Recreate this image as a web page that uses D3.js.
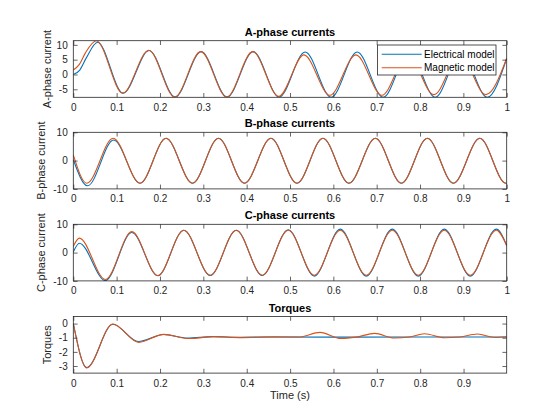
<!DOCTYPE html>
<html>
<head>
<meta charset="utf-8">
<script src="https://cdn.jsdelivr.net/npm/d3@7/dist/d3.min.js"></script>
<style>
  body { margin: 0; background: #fff; }
  text { font-family: "Liberation Sans", Arial, Helvetica, sans-serif; }
</style>
</head>
<body>
<div id="chart"></div>
<script>
// values: extrema of each trace (time in s)
const aTimeE = [0, 0.015, 0.03, 0.056, 0.115, 0.175, 0.235, 0.295, 0.355, 0.415, 0.475, 0.535, 0.595, 0.655, 0.715, 0.775, 0.835, 0.895, 0.955, 1.0];
const aElec = [0, 1.5, 5.6, 10.9, -6.3, 8.1, -7.6, 7.7, -7.6, 7.7, -7.6, 7.6, -7.7, 7.6, -7.7, 7.6, -7.7, 7.6, -7.7, 5.4];
const aTimeM = [0, 0.014, 0.028, 0.053, 0.114, 0.174, 0.234, 0.294, 0.354, 0.414, 0.474, 0.532, 0.592, 0.652, 0.712, 0.772, 0.832, 0.892, 0.952, 1.0];
const aMag = [1.5, 3.4, 7.3, 11.4, -6.3, 8.2, -7.6, 7.7, -7.6, 7.7, -7.4, 6.6, -7.0, 6.6, -7.0, 6.6, -6.8, 6.6, -6.8, 5.5];

const bTimeE = [0, 0.033, 0.093, 0.154, 0.214, 0.275, 0.335, 0.395, 0.456, 0.516, 0.576, 0.636, 0.697, 0.757, 0.817, 0.877, 0.938, 0.998, 1.0];
const bElec = [0.3, -8.9, 7.3, -8.0, 7.9, -8.0, 7.9, -8.0, 7.9, -8.0, 7.9, -8.0, 7.9, -8.0, 7.9, -8.0, 7.9, -8.0, -7.98];
const bTimeM = [0, 0.031, 0.092, 0.154, 0.214, 0.275, 0.335, 0.395, 0.456, 0.516, 0.576, 0.636, 0.697, 0.757, 0.817, 0.877, 0.938, 0.998, 1.0];
const bMag = [2.0, -8.0, 7.9, -8.0, 7.9, -8.0, 7.9, -8.0, 7.9, -8.0, 7.9, -8.0, 7.9, -8.0, 7.9, -8.0, 7.9, -8.0, -7.98];

const cTime = [0, 0.014, 0.074, 0.135, 0.195, 0.255, 0.316, 0.376, 0.436, 0.496, 0.556, 0.616, 0.676, 0.736, 0.796, 0.856, 0.916, 0.976, 1.0];
const cElec = [0.2, 3.3, -9.9, 7.1, -8.2, 7.9, -8.1, 7.9, -8.1, 8.1, -8.3, 8.3, -8.3, 8.3, -8.3, 8.3, -8.3, 8.3, 2.6];
const cMag = [2.2, 5.1, -9.5, 7.4, -8.1, 7.9, -8.0, 7.9, -8.0, 7.9, -8.0, 7.9, -8.0, 7.9, -8.0, 7.9, -8.0, 7.9, 2.4];

const tqTimeE = [0, 0.031, 0.091, 0.150, 0.208, 0.263, 0.322, 0.38, 0.44, 0.6, 0.8, 0.9995];
const tqElec = [0, -3.11, -0.05, -1.27, -0.77, -1.02, -0.92, -0.97, -0.95, -0.96, -0.95, -0.95];
const tqTimeM = [0, 0.031, 0.091, 0.151, 0.209, 0.266, 0.325, 0.39, 0.46, 0.52, 0.569, 0.617, 0.652, 0.695, 0.740, 0.775, 0.810, 0.856, 0.892, 0.932, 0.972, 0.9995];
const tqMag = [0, -3.13, -0.03, -1.33, -0.76, -1.06, -0.92, -0.99, -0.94, -0.95, -0.62, -1.05, -0.96, -0.69, -1.02, -0.95, -0.72, -1.0, -0.95, -0.74, -0.98, -0.93];

const xTicks = [0, 0.1, 0.2, 0.3, 0.4, 0.5, 0.6, 0.7, 0.8, 0.9, 1];
const aTicks = [-5, 0, 5, 10];
const bTicks = [-10, 0, 10];
const cTicks = [-10, 0, 10];
const tqTicks = [-3, -2, -1, 0];
const seriesNames = ["Electrical model", "Magnetic model"];

const width = 560;
const height = 420;
const left = 73.3;
const right = 506.7;
const panelH = 56.6;
const blue = "#0072BD";
const orange = "#D95319";
const axisColor = "#262626";

const panels = [
  { title: "A-phase currents", ylabel: "A-phase current", top: 40.7, yDomain: [-7.7, 11.4], yTicks: aTicks, xMax: 1, tE: aTimeE, vE: aElec, tM: aTimeM, vM: aMag, labX: 51, legend: true },
  { title: "B-phase currents", ylabel: "B-phase current", top: 132.3, yDomain: [-10, 10], yTicks: bTicks, xMax: 1, tE: bTimeE, vE: bElec, tM: bTimeM, vM: bMag, labX: 44.5 },
  { title: "C-phase currents", ylabel: "C-phase current", top: 224.3, yDomain: [-10, 10], yTicks: cTicks, xMax: 1, tE: cTime, vE: cElec, tM: cTime, vM: cMag, labX: 44.5 },
  { title: "Torques", ylabel: "Torques", top: 316.5, yDomain: [-3.5, 0.5], yTicks: tqTicks, xMax: 0.9995, tE: tqTimeE, vE: tqElec, tM: tqTimeM, vM: tqMag, labX: 51, xlabel: "Time (s)" },
];

const svg = d3
  .select("#chart")
  .append("svg")
  .attr("width", width)
  .attr("height", height);

svg.append("rect").attr("width", width).attr("height", height).attr("fill", "#fff");

const fmtX = (d) => String(+d.toFixed(1));
const fmtY = (d) => String(d);

panels.forEach((p, i) => {
  const x = d3.scaleLinear().domain([0, p.xMax]).range([left, right]);
  const y = d3.scaleLinear().domain(p.yDomain).range([p.top + panelH, p.top]);
  const g = svg.append("g");

  g.append("clipPath")
    .attr("id", "clip" + i)
    .append("rect")
    .attr("x", left)
    .attr("y", p.top)
    .attr("width", right - left)
    .attr("height", panelH);

  const line = d3
    .line()
    .x((d) => x(d[0]))
    .y((d) => y(d[1]))
    .curve(d3.curveMonotoneX);

  const lines = g.append("g").attr("clip-path", `url(#clip${i})`);
  lines
    .append("path")
    .attr("d", line(d3.zip(p.tE, p.vE)))
    .attr("fill", "none")
    .attr("stroke", blue)
    .attr("stroke-width", 1.1);
  lines
    .append("path")
    .attr("d", line(d3.zip(p.tM, p.vM)))
    .attr("fill", "none")
    .attr("stroke", orange)
    .attr("stroke-width", 1.1);

  const xt = xTicks.filter((t) => t <= p.xMax);
  const bottom = p.top + panelH;

  const axB = g.append("g").attr("transform", `translate(0,${bottom})`)
    .call(d3.axisBottom(x).tickValues(xt).tickFormat(fmtX).tickSizeInner(-4.3).tickSizeOuter(0).tickPadding(6.5));
  const axT = g.append("g").attr("transform", `translate(0,${p.top})`)
    .call(d3.axisTop(x).tickValues(xt).tickFormat("").tickSizeInner(-4.3).tickSizeOuter(0));
  const axL = g.append("g").attr("transform", `translate(${left},0)`)
    .call(d3.axisLeft(y).tickValues(p.yTicks).tickFormat(fmtY).tickSizeInner(-4.3).tickSizeOuter(0).tickPadding(5.6));
  const axR = g.append("g").attr("transform", `translate(${right},0)`)
    .call(d3.axisRight(y).tickValues(p.yTicks).tickFormat("").tickSizeInner(-4.3).tickSizeOuter(0));

  [axB, axT, axL, axR].forEach((a) => {
    a.select(".domain").remove();
    a.selectAll("line").attr("stroke", axisColor).attr("stroke-width", 0.7);
    a.selectAll("text")
      .attr("fill", axisColor)
      .style("font-size", "10px")
      .style("font-family", '"Liberation Sans", Arial, Helvetica, sans-serif');
  });

  g.append("rect")
    .attr("x", left)
    .attr("y", p.top)
    .attr("width", right - left)
    .attr("height", panelH)
    .attr("fill", "none")
    .attr("stroke", axisColor)
    .attr("stroke-width", 0.8);

  g.append("text")
    .attr("x", (left + right) / 2)
    .attr("y", p.top - 5)
    .attr("text-anchor", "middle")
    .attr("font-size", 11)
    .attr("font-weight", "bold")
    .attr("fill", "#000")
    .text(p.title);

  g.append("text")
    .attr("transform", `translate(${p.labX},${p.top + panelH / 2}) rotate(-90)`)
    .attr("text-anchor", "middle")
    .attr("font-size", 11)
    .attr("fill", axisColor)
    .text(p.ylabel);

  if (p.xlabel) {
    g.append("text")
      .attr("x", (left + right) / 2)
      .attr("y", 399)
      .attr("text-anchor", "middle")
      .attr("font-size", 11)
      .attr("fill", axisColor)
      .text(p.xlabel);
  }

  if (p.legend) {
    const lg = g.append("g").attr("transform", "translate(377.5,45)");
    lg.append("rect")
      .attr("width", 118.5)
      .attr("height", 30)
      .attr("fill", "#fff")
      .attr("stroke", axisColor)
      .attr("stroke-width", 0.8);
    seriesNames.forEach((name, k) => {
      const yy = 9.3 + k * 13.4;
      lg.append("line")
        .attr("x1", 4.2)
        .attr("x2", 44.2)
        .attr("y1", yy)
        .attr("y2", yy)
        .attr("stroke", k === 0 ? blue : orange)
        .attr("stroke-width", 1.1);
      lg.append("text")
        .attr("x", 46.5)
        .attr("y", yy + 3.6)
        .attr("font-size", 10)
        .attr("fill", "#000")
        .text(name);
    });
  }
});
</script>
</body>
</html>
